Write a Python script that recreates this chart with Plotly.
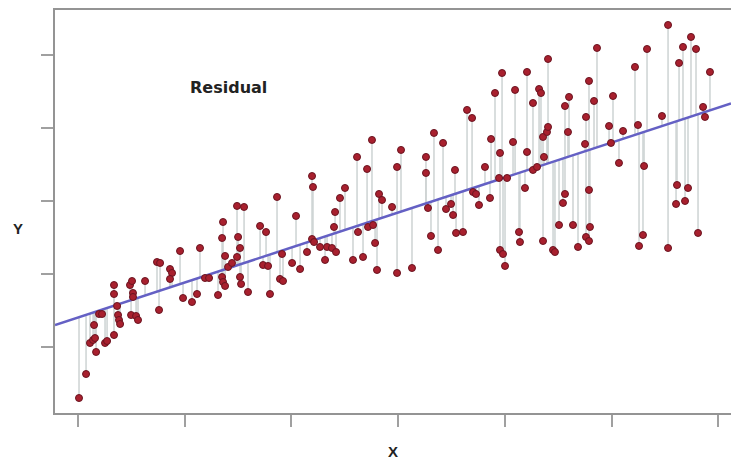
import plotly.graph_objects as go

# Data (x: 0..60, y: ~3..54)
x_vals = [0.09, 0.75, 1.69, 1.12, 1.41, 1.59, 2.53, 2.72, 3.37, 1.50, 1.97, 2.25, 3.37, 3.37, 3.66, 3.75,
          3.84, 3.94, 4.87, 5.06, 5.15, 5.15, 4.97, 5.44, 5.62, 6.28, 7.40, 7.69, 7.59, 8.62, 8.81, 8.62,
          9.56, 9.84, 10.68, 11.15, 11.43, 11.90, 12.28, 13.12, 13.59, 13.50, 13.78, 13.50, 13.59, 13.78,
          14.06, 14.43, 14.90, 15.18, 14.90, 15.56, 15.00, 15.18, 15.28, 15.93, 17.06, 17.62, 17.34, 17.81,
          17.99, 18.65, 19.12, 18.93, 19.21, 20.06, 20.43, 20.81, 21.46, 21.93, 22.02, 21.93, 22.12, 22.68,
          23.34, 23.80, 24.18, 23.15, 24.09, 24.55, 25.02, 23.99, 25.77, 26.15, 26.24, 26.71, 27.09, 27.18,
          27.65, 27.55, 27.84, 28.02, 28.21, 28.49, 29.43, 29.90, 29.90, 30.27, 31.30, 32.61, 32.61, 32.80,
          33.08, 33.36, 33.74, 34.21, 34.49, 34.96, 35.15, 35.33, 35.43, 36.08, 36.46, 36.93, 37.02, 37.30,
          37.58, 38.14, 38.61, 38.71, 39.08, 39.74, 39.55, 39.46, 40.21, 39.55, 39.83, 40.02, 40.96, 42.08,
          44.05, 42.64, 43.21, 43.39, 40.77, 42.08, 42.64, 43.02, 43.67, 43.58, 43.95, 44.05, 41.89, 41.33,
          41.42, 43.58, 44.52, 44.70, 45.08, 45.45, 45.64, 45.64, 46.02, 45.92, 46.39, 46.86, 47.52, 47.61,
          47.89, 47.61, 47.89, 47.98, 47.89, 48.36, 48.64, 49.77, 50.14, 49.95, 50.70, 51.08, 52.20, 52.48,
          53.05, 52.95, 52.58, 53.33, 54.73, 55.30, 55.30, 56.14, 56.05, 56.33, 56.70, 57.45, 57.92, 56.89,
          57.17, 58.11, 58.58, 58.76, 59.23]
y_vals = [3.01, 6.30, 9.32, 10.55, 10.96, 11.23, 10.55, 10.82, 11.64, 13.01, 14.52, 14.52, 18.49, 17.26, 15.62, 14.38,
          13.70, 13.15, 18.49, 19.04, 17.40, 16.85, 14.38, 14.25, 13.70, 19.04, 21.64, 21.51, 15.07, 20.68, 20.14, 19.32,
          23.15, 16.71, 16.16, 17.26, 23.56, 19.45, 19.45, 17.12, 27.12, 24.93, 22.47, 19.59, 18.90, 18.36,
          20.96, 21.51, 22.33, 23.56, 29.32, 29.18, 25.07, 19.59, 18.63, 17.53, 26.58, 25.75, 21.23, 21.10,
          17.26, 30.55, 22.74, 19.32, 19.04, 21.51, 27.95, 20.68, 23.01, 33.42, 31.92, 24.79, 24.38, 23.70,
          23.70, 23.56, 23.01, 21.92, 28.49, 30.41, 31.78, 26.44, 21.92, 36.03, 25.75, 22.33, 34.38, 26.44,
          26.71, 38.36, 24.25, 20.55, 30.96, 30.14, 29.18, 20.14, 34.66, 36.99, 20.82, 36.03, 33.84, 29.04,
          25.21, 39.32, 23.29, 37.95, 28.90, 29.59, 28.08, 34.25, 25.62, 25.75, 42.47, 41.37, 31.23, 30.96,
          29.45, 34.66, 30.41, 38.49, 44.79, 47.53, 36.58, 33.15, 33.15, 23.29, 22.74, 21.10, 45.21, 47.67,
          49.45, 43.42, 45.34, 44.79, 38.08, 36.71, 34.25, 34.66, 36.03, 38.77, 39.45, 40.14, 31.78, 25.75,
          24.38, 24.52, 23.29, 23.01, 26.71, 29.73, 30.96, 43.01, 44.25, 39.45, 26.71, 23.70, 37.81, 41.51,
          46.44, 25.07, 24.52, 26.44, 31.51, 43.70, 50.96, 40.27, 44.38, 37.95, 35.21, 39.59, 48.36, 40.41,
          34.79, 25.34, 23.84, 50.82, 41.64, 54.11, 23.56, 32.19, 29.59, 48.90, 51.10, 52.47, 50.82, 30.00,
          31.78, 25.62, 42.88, 41.51, 47.67]

fit_intercept = 14.05
fit_slope = 0.479

x_ticks = [0, 10, 20, 30, 40, 50, 60]
y_ticks = [10, 20, 30, 40, 50]
x_range = [-2.16, 61.2]
y_range = [0.96, 56.16]

# residual segments from each point to the fitted line
rx, ry = [], []
for xv, yv in zip(x_vals, y_vals):
    rx += [xv, xv, None]
    ry += [yv, fit_intercept + fit_slope * xv, None]

fig = go.Figure()
fig.add_trace(go.Scatter(x=rx, y=ry, mode="lines",
                         line=dict(color="#cdd3d3", width=1.5), hoverinfo="skip", showlegend=False))
fig.add_trace(go.Scatter(x=x_range, y=[fit_intercept + fit_slope * v for v in x_range], mode="lines",
                         line=dict(color="#6460c4", width=2.5), showlegend=False))
fig.add_trace(go.Scatter(x=x_vals, y=y_vals, mode="markers",
                         marker=dict(size=7, color="#a8202e", line=dict(color="#6a1420", width=1)),
                         showlegend=False))

fig.add_annotation(text="<b>Residual</b>", x=10.3, y=45.6, xref="x", yref="y", xanchor="left",
                   yanchor="middle", showarrow=False,
                   font=dict(size=16, color="#222222", family="DejaVu Sans, Verdana, sans-serif"))

fig.update_layout(
    width=731, height=460,
    margin=dict(l=55, r=0, t=10, b=47),
    paper_bgcolor="white", plot_bgcolor="white",
    font=dict(family="Arial, Liberation Sans, sans-serif", color="#222222"),
    xaxis=dict(range=x_range, tickvals=x_ticks, showticklabels=False, showgrid=False, zeroline=False,
               showline=True, linecolor="#949494", linewidth=2, mirror=True,
               ticks="outside", ticklen=12, tickwidth=1.5, tickcolor="#a0a0a0",
               title=dict(text="<b>X</b>", font=dict(size=15), standoff=20)),
    yaxis=dict(range=y_range, tickvals=y_ticks, showticklabels=False, showgrid=False, zeroline=False,
               showline=True, linecolor="#949494", linewidth=2, mirror=False,
               ticks="outside", ticklen=12, tickwidth=1.5, tickcolor="#a0a0a0"),
)
fig.add_annotation(text="<b>Y</b>", x=-37 / 676, y=(413 - 228) / 403, xref="paper", yref="paper",
                   showarrow=False, font=dict(size=15), xanchor="center", yanchor="middle")

fig.write_html("out.html")
